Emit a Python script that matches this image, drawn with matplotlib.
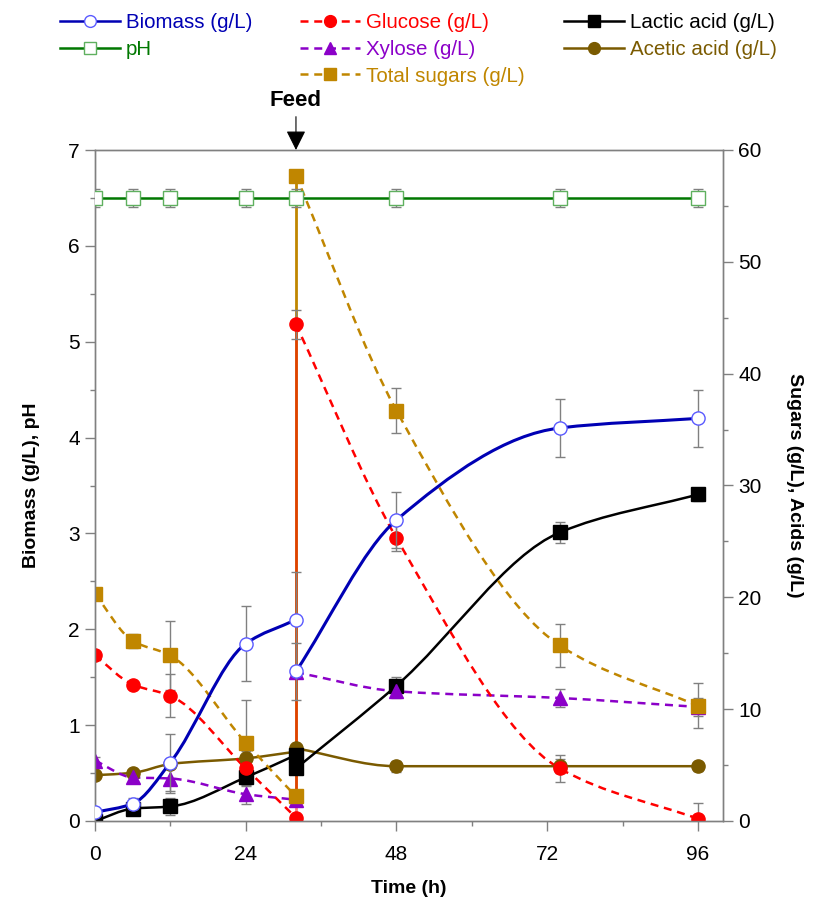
import numpy as np
import matplotlib
matplotlib.use("Agg")
import matplotlib.pyplot as plt
from matplotlib.path import Path
from matplotlib.patches import PathPatch
from matplotlib.lines import Line2D
from matplotlib.ticker import MultipleLocator

plt.rcParams["font.family"] = ["Liberation Sans", "DejaVu Sans"]

# ==============================
# data
# ==============================
t_pre = [0, 6, 12, 24, 32]        # before feeding
t_post = [32, 48, 74, 96]         # after feeding
t_all = [0, 6, 12, 24, 32, 48, 74, 96]

# left axis: biomass (g/L), pH
biomass_pre = [0.09, 0.18, 0.61, 1.85, 2.10]
biomass_pre_err = [0.02, 0.06, 0.30, 0.39, 0.50]
biomass_post = [1.56, 3.14, 4.10, 4.20]
biomass_post_err = [0.30, 0.29, 0.30, 0.30]
ph = [6.5, 6.5, 6.5, 6.5, 6.5, 6.5, 6.5, 6.5]
ph_err = [0.09, 0.09, 0.09, 0.09, 0.09, 0.09, 0.09, 0.09]

# right axis: sugars and acids (g/L)
glucose_pre = [14.8, 12.2, 11.2, 4.7, 0.3]
glucose_pre_err = [0.3, 0.3, 1.9, 1.6, 0.2]
glucose_post = [44.4, 25.3, 4.7, 0.2]
glucose_post_err = [1.3, 1.2, 1.2, 1.4]

xylose_pre = [5.4, 3.9, 3.8, 2.4, 1.9]
xylose_pre_err = [0.3, 0.3, 1.3, 0.9, 0.3]
xylose_post = [13.3, 11.6, 11.0, 10.2]
xylose_post_err = [0.5, 0.6, 0.8, 0.8]

total_pre = [20.3, 16.1, 14.8, 7.0, 2.2]
total_pre_err = [0.3, 0.6, 3.1, 3.8, 0.5]
total_post = [57.7, 36.7, 15.7, 10.3]
total_post_err = [0.5, 2.0, 1.9, 2.0]

lactic_pre = [0.0, 1.1, 1.3, 3.9, 5.9]
lactic_pre_err = [0.1, 0.3, 0.8, 0.5, 0.5]
lactic_post = [4.7, 12.1, 25.8, 29.2]
lactic_post_err = [0.5, 0.8, 0.9, 0.6]

acetic_pre = [4.1, 4.3, 5.1, 5.6, 6.2]
acetic_pre_err = [0.2, 0.3, 0.4, 0.3, 0.3]
acetic_post = [6.5, 4.9, 4.9, 4.9]
acetic_post_err = [0.3, 0.5, 0.6, 0.4]

feed_time = 32

# colours
C_BIO, C_BIO_M = "#0000b4", "#5a5aff"
C_PH, C_PH_M = "#007800", "#5fb05f"
C_GLU = "#ff0000"
C_XYL = "#8b00c8"
C_TOT = "#c08600"
C_LAC = "#000000"
C_ACE = "#7a5a00"
C_ERR = "#808080"
DASH = (0, (3.2, 2.3))
MS = 9.5


def smooth_path(x, y):
    """monotone cubic (Fritsch-Carlson) drawn as bezier segments"""
    x = np.asarray(x, float)
    y = np.asarray(y, float)
    h = np.diff(x)
    d = np.diff(y) / h
    m = np.zeros_like(y)
    m[0], m[-1] = d[0], d[-1]
    for k in range(1, len(x) - 1):
        if d[k - 1] * d[k] > 0:
            w1 = 2 * h[k] + h[k - 1]
            w2 = h[k] + 2 * h[k - 1]
            m[k] = (w1 + w2) / (w1 / d[k - 1] + w2 / d[k])
    verts = [(x[0], y[0])]
    codes = [Path.MOVETO]
    for k in range(len(h)):
        verts += [(x[k] + h[k] / 3, y[k] + m[k] * h[k] / 3),
                  (x[k + 1] - h[k] / 3, y[k + 1] - m[k + 1] * h[k] / 3),
                  (x[k + 1], y[k + 1])]
        codes += [Path.CURVE4] * 3
    return Path(verts, codes)


def series(axis, x, y, err, color, ls, marker, mfc, mec, ms=MS, lw=1.8, z=3):
    axis.errorbar(x, y, yerr=err, fmt="none", ecolor=C_ERR, elinewidth=1,
                  capsize=3.5, capthick=1, zorder=z - 0.5)
    axis.add_patch(PathPatch(smooth_path(x, y), fill=False, edgecolor=color,
                             lw=lw, linestyle=ls, zorder=z))
    axis.plot(x, y, ls="none", marker=marker, mfc=mfc, mec=mec, ms=ms,
              mew=1, zorder=z + 0.5)


fig = plt.figure(figsize=(8.14, 9.01), dpi=100)
ax = fig.add_axes([95 / 814, 80 / 901, 628 / 814, 671 / 901])
ax2 = ax.twinx()
ax.set_zorder(ax2.get_zorder() + 1)
ax.patch.set_visible(False)

# ---- right axis: sugars / acids ----
# feed jump
ax2.plot([feed_time, feed_time], [total_pre[-1], total_post[0]], color=C_TOT, lw=2, zorder=1)
ax2.plot([feed_time, feed_time], [glucose_pre[-1], glucose_post[0]], color=C_GLU, lw=2,
         alpha=0.5, zorder=1.5)

series(ax2, t_pre, acetic_pre, acetic_pre_err, C_ACE, "-", "o", C_ACE, C_ACE)
series(ax2, t_post, acetic_post, acetic_post_err, C_ACE, "-", "o", C_ACE, C_ACE)
series(ax2, t_pre, lactic_pre, lactic_pre_err, C_LAC, "-", "s", C_LAC, C_LAC)
series(ax2, t_post, lactic_post, lactic_post_err, C_LAC, "-", "s", C_LAC, C_LAC)
series(ax2, t_pre, xylose_pre, xylose_pre_err, C_XYL, DASH, "^", C_XYL, C_XYL)
series(ax2, t_post, xylose_post, xylose_post_err, C_XYL, DASH, "^", C_XYL, C_XYL)
series(ax2, t_pre, glucose_pre, glucose_pre_err, C_GLU, DASH, "o", C_GLU, C_GLU)
series(ax2, t_post, glucose_post, glucose_post_err, C_GLU, DASH, "o", C_GLU, C_GLU)
series(ax2, t_pre, total_pre, total_pre_err, C_TOT, DASH, "s", C_TOT, C_TOT)
series(ax2, t_post, total_post, total_post_err, C_TOT, DASH, "s", C_TOT, C_TOT)

# ---- left axis: biomass / pH ----
series(ax, t_pre, biomass_pre, biomass_pre_err, C_BIO, "-", "o", "white", C_BIO_M, lw=2.2)
series(ax, t_post, biomass_post, biomass_post_err, C_BIO, "-", "o", "white", C_BIO_M, lw=2.2)
ax.errorbar(t_all, ph, yerr=ph_err, fmt="none", ecolor=C_ERR, elinewidth=1, capsize=3.5, zorder=4)
ax.plot(t_all, ph, color=C_PH, lw=1.8, marker="s", mfc="white", mec=C_PH_M, ms=MS, zorder=5)

# ---- axes ----
ax.set_xlim(0, 100)
ax.set_ylim(0, 7)
ax2.set_ylim(0, 60)
ax.set_xticks([0, 24, 48, 72, 96])
ax.xaxis.set_minor_locator(MultipleLocator(12))
ax.yaxis.set_major_locator(MultipleLocator(1))
ax.yaxis.set_minor_locator(MultipleLocator(0.5))
ax2.yaxis.set_major_locator(MultipleLocator(10))
ax2.yaxis.set_minor_locator(MultipleLocator(5))

for a in (ax, ax2):
    for s in a.spines.values():
        s.set_color(C_ERR)
        s.set_linewidth(1)
    a.tick_params(which="major", direction="out", length=7, width=1, color=C_ERR, labelsize=15)
    a.tick_params(which="minor", direction="out", length=3.5, width=1, color=C_ERR)
ax.tick_params(axis="x", pad=10)
ax.tick_params(axis="y", pad=4)
ax2.tick_params(axis="y", pad=4)

ax.set_xlabel("Time (h)", fontsize=14, fontweight="bold", labelpad=12)
ax.set_ylabel("Biomass (g/L), pH", fontsize=14, fontweight="bold", labelpad=20)
ax2.set_ylabel("Sugars (g/L), Acids (g/L)", fontsize=14, fontweight="bold",
               rotation=270, labelpad=30)

# feed arrow
ax.annotate("Feed", xy=(feed_time, 7), xytext=(0, 28), textcoords="offset points",
            ha="center", va="bottom", fontsize=16, fontweight="bold",
            annotation_clip=False,
            arrowprops=dict(arrowstyle="-|>", color="k", lw=0.8, mutation_scale=30,
                            shrinkA=2, shrinkB=0))

# ---- legend (three columns, placed separately) ----
def h(color, ls, marker, mfc, mec):
    return Line2D([], [], color=color, ls=ls, lw=1.8, marker=marker, mfc=mfc, mec=mec, ms=8.5)

cols = [
    ([h(C_BIO, "-", "o", "white", C_BIO_M), h(C_PH, "-", "s", "white", C_PH_M)],
     ["Biomass (g/L)", "pH"], [C_BIO, C_PH], 60),
    ([h(C_GLU, DASH, "o", C_GLU, C_GLU), h(C_XYL, DASH, "^", C_XYL, C_XYL),
      h(C_TOT, DASH, "s", C_TOT, C_TOT)],
     ["Glucose (g/L)", "Xylose (g/L)", "Total sugars (g/L)"], [C_GLU, C_XYL, C_TOT], 300),
    ([h(C_LAC, "-", "s", C_LAC, C_LAC), h(C_ACE, "-", "o", C_ACE, C_ACE)],
     ["Lactic acid (g/L)", "Acetic acid (g/L)"], [C_LAC, C_ACE], 564),
]
for handles, labels, tcolors, xpix in cols:
    leg = fig.legend(handles, labels, loc="upper left", bbox_to_anchor=(xpix / 814, 1 - 13 / 901),
                     frameon=False, fontsize=14.8, handlelength=2.9, handletextpad=0.3,
                     labelspacing=0.38, borderpad=0, borderaxespad=0)
    for txt, c in zip(leg.get_texts(), tcolors):
        txt.set_color(c)

fig.savefig("out.png", dpi=100)
